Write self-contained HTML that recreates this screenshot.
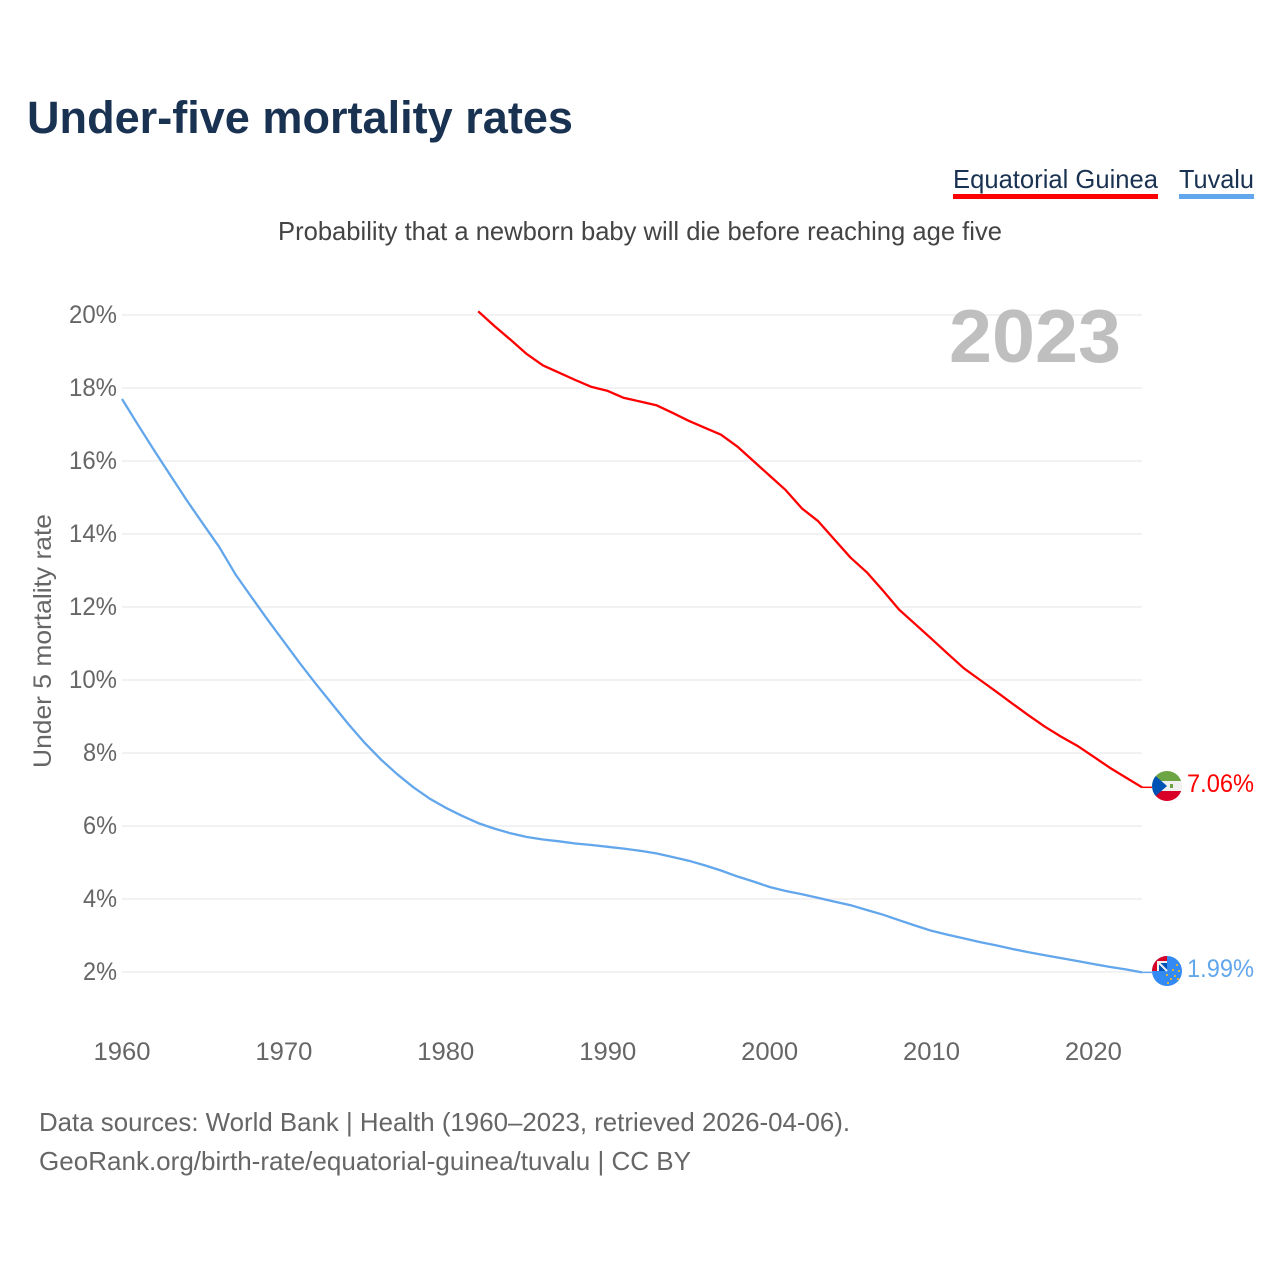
<!DOCTYPE html>
<html lang="en">
<head>
<meta charset="utf-8">
<title>Under-five mortality rates</title>
<style>
html,body{margin:0;padding:0;background:#fff;width:1280px;height:1280px;overflow:hidden}
svg{display:block;font-family:"Liberation Sans",sans-serif}
</style>
</head>
<body>
<svg id="chart" xmlns="http://www.w3.org/2000/svg" width="1280" height="1280" viewBox="0 0 1280 1280">
  <defs>
    <clipPath id="clip-eq"><circle cx="1167" cy="786" r="15"/></clipPath>
    <clipPath id="clip-tv"><circle cx="1167" cy="971" r="15"/></clipPath>
  </defs>
  <rect width="1280" height="1280" fill="#fff"/>
  <text x="27" y="133" font-size="45" font-weight="700" fill="#1a3252" textLength="546" lengthAdjust="spacingAndGlyphs">Under-five mortality rates</text>
  <g>
    <text x="953" y="188" font-size="26" fill="#1a3252" textLength="205" lengthAdjust="spacingAndGlyphs">Equatorial Guinea</text>
    <rect x="953" y="194" width="205" height="5" fill="#ff0000"/>
  </g>
  <g>
    <text x="1179" y="188" font-size="26" fill="#1a3252" textLength="75" lengthAdjust="spacingAndGlyphs">Tuvalu</text>
    <rect x="1179" y="194" width="75" height="5" fill="#62a6ec"/>
  </g>
  <text x="278" y="240" font-size="26" fill="#444" textLength="724" lengthAdjust="spacingAndGlyphs">Probability that a newborn baby will die before reaching age five</text>
  <g id="grid"></g>
  <g id="yticks"></g>
  <g id="xticks"></g>
  <text x="949" y="362" font-size="75" font-weight="700" fill="#bfbfbf" textLength="172" lengthAdjust="spacingAndGlyphs">2023</text>
  <text transform="translate(51,768) rotate(-90)" font-size="25" fill="#666" textLength="254" lengthAdjust="spacingAndGlyphs">Under 5 mortality rate</text>
  <g id="series"></g>

  <g clip-path="url(#clip-eq)">
    <rect x="1152" y="771" width="30" height="10" fill="#6da544"/>
    <rect x="1152" y="781" width="30" height="10" fill="#f0f0f0"/>
    <rect x="1152" y="791" width="30" height="10" fill="#d80027"/>
    <polygon points="1150,771 1167,786 1150,801" fill="#0052b4"/>
    <rect x="1170" y="784" width="3" height="4" fill="#6da544"/>
  </g>
  <g clip-path="url(#clip-tv)">
    <rect x="1152" y="956" width="30" height="30" fill="#338af3"/>
    <rect x="1152" y="956" width="15" height="15" fill="#d80027"/>
    <rect x="1157" y="961" width="10" height="10" fill="#f0f0f0"/>
    <rect x="1159" y="963" width="8" height="8" fill="#0052b4"/>
    <path d="M1159 963 L1167 971" stroke="#f0f0f0" stroke-width="2"/>
    <g fill="#d8b13a">
      <rect x="1176" y="964" width="2" height="2"/>
      <rect x="1172" y="969" width="2" height="2"/>
      <rect x="1178" y="970" width="2" height="2"/>
      <rect x="1174" y="975" width="2" height="2"/>
      <rect x="1170" y="978" width="2" height="2"/>
      <rect x="1166" y="974" width="2" height="2"/>
      <rect x="1177" y="978" width="2" height="2"/>
      <rect x="1167" y="982" width="2" height="2"/>
    </g>
  </g>
  <text id="val-eq" x="1187" y="792" font-size="25" fill="#ff0000" textLength="67" lengthAdjust="spacingAndGlyphs"></text>
  <text id="val-tv" x="1187" y="977" font-size="25" fill="#62a6ec" textLength="67" lengthAdjust="spacingAndGlyphs"></text>

  <text x="39" y="1131" font-size="26" fill="#666" textLength="811" lengthAdjust="spacingAndGlyphs">Data sources: World Bank | Health (1960–2023, retrieved 2026-04-06).</text>
  <text x="39" y="1170" font-size="26" fill="#666" textLength="652" lengthAdjust="spacingAndGlyphs">GeoRank.org/birth-rate/equatorial-guinea/tuvalu | CC BY</text>
</svg>
<script>
const yTicks = [2, 4, 6, 8, 10, 12, 14, 16, 18, 20];
const xTicks = [1960, 1970, 1980, 1990, 2000, 2010, 2020];
const eqStartYear = 1982;
const eqValues = [20.1, 19.7, 19.32, 18.93, 18.62, 18.42, 18.22, 18.03, 17.92, 17.73, 17.63, 17.53, 17.32, 17.1, 16.91, 16.72, 16.4, 16.0, 15.6, 15.2, 14.7, 14.35, 13.85, 13.35, 12.95, 12.45, 11.93, 11.53, 11.13, 10.72, 10.32, 10.0, 9.68, 9.35, 9.03, 8.72, 8.45, 8.2, 7.9, 7.6, 7.33, 7.06];
const tvStartYear = 1960;
const tvValues = [17.7, 16.98, 16.28, 15.6, 14.92, 14.28, 13.65, 12.9, 12.27, 11.65, 11.05, 10.45, 9.88, 9.33, 8.78, 8.27, 7.82, 7.42, 7.06, 6.75, 6.5, 6.28, 6.08, 5.93, 5.8, 5.7, 5.63, 5.58, 5.52, 5.48, 5.43, 5.38, 5.32, 5.25, 5.15, 5.05, 4.92, 4.78, 4.62, 4.48, 4.33, 4.22, 4.13, 4.03, 3.93, 3.83, 3.7, 3.57, 3.42, 3.27, 3.13, 3.02, 2.92, 2.82, 2.73, 2.63, 2.54, 2.46, 2.38, 2.3, 2.22, 2.14, 2.07, 1.99];

const NS = 'http://www.w3.org/2000/svg';
const xScale = function (year) { return 122 + (year - 1960) * (1142 - 122) / 63; };
const yScale = function (v) { return 972 - (v - 2) * 36.5; };

function svgEl(tag, parent) {
  const el = document.createElementNS(NS, tag);
  parent.appendChild(el);
  return el;
}

const grid = document.getElementById('grid');
const yG = document.getElementById('yticks');
const xG = document.getElementById('xticks');
const seriesG = document.getElementById('series');

yTicks.forEach(function (t) {
  const line = svgEl('line', grid);
  
  
  line.setAttribute('x1', 122);
  line.setAttribute('x2', 1142);
  line.setAttribute('y1', yScale(t));
  line.setAttribute('y2', yScale(t));
  line.setAttribute('stroke', '#eeeeee');
  line.setAttribute('stroke-width', '1.5');

  const label = svgEl('text', yG);
  
  
  const str = t + '%';
  label.textContent = str;
  label.setAttribute('x', 117);
  label.setAttribute('y', yScale(t) + 8);
  label.setAttribute('text-anchor', 'end');
  label.setAttribute('font-size', '25');
  label.setAttribute('fill', '#666');
  label.setAttribute('textLength', str.length === 3 ? 48 : 34);
  label.setAttribute('lengthAdjust', 'spacingAndGlyphs');
});

xTicks.forEach(function (t) {
  const label = svgEl('text', xG);
  
  
  label.textContent = String(t);
  label.setAttribute('x', xScale(t));
  label.setAttribute('y', 1060);
  label.setAttribute('text-anchor', 'middle');
  label.setAttribute('font-size', '25');
  label.setAttribute('fill', '#666');
  label.setAttribute('textLength', 57);
  label.setAttribute('lengthAdjust', 'spacingAndGlyphs');
});

function linePoints(startYear, values) {
  return values.map(function (v, i) {
    return xScale(startYear + i).toFixed(1) + ',' + yScale(v).toFixed(1);
  }).join(' ');
}

const tvLine = svgEl('polyline', seriesG);


tvLine.setAttribute('points', linePoints(tvStartYear, tvValues));
tvLine.setAttribute('fill', 'none');
tvLine.setAttribute('stroke', '#62a6ec');
tvLine.setAttribute('stroke-width', '2.3');
tvLine.setAttribute('stroke-linejoin', 'round');

const eqLine = svgEl('polyline', seriesG);


eqLine.setAttribute('points', linePoints(eqStartYear, eqValues));
eqLine.setAttribute('fill', 'none');
eqLine.setAttribute('stroke', '#ff0000');
eqLine.setAttribute('stroke-width', '2.3');
eqLine.setAttribute('stroke-linejoin', 'round');

const eqLast = eqValues[eqValues.length - 1];
const tvLast = tvValues[tvValues.length - 1];

const eqLeader = svgEl('line', seriesG);


eqLeader.setAttribute('x1', xScale(2023));
eqLeader.setAttribute('x2', 1152);
eqLeader.setAttribute('y1', yScale(eqLast));
eqLeader.setAttribute('y2', yScale(eqLast));
eqLeader.setAttribute('stroke', '#ff0000');
eqLeader.setAttribute('stroke-width', '1.5');

const tvLeader = svgEl('line', seriesG);


tvLeader.setAttribute('x1', xScale(2023));
tvLeader.setAttribute('x2', 1152);
tvLeader.setAttribute('y1', yScale(tvLast));
tvLeader.setAttribute('y2', yScale(tvLast));
tvLeader.setAttribute('stroke', '#62a6ec');
tvLeader.setAttribute('stroke-width', '1.5');

document.getElementById('val-eq').textContent = eqLast.toFixed(2) + '%';
document.getElementById('val-tv').textContent = tvLast.toFixed(2) + '%';
</script>
</body>
</html>
